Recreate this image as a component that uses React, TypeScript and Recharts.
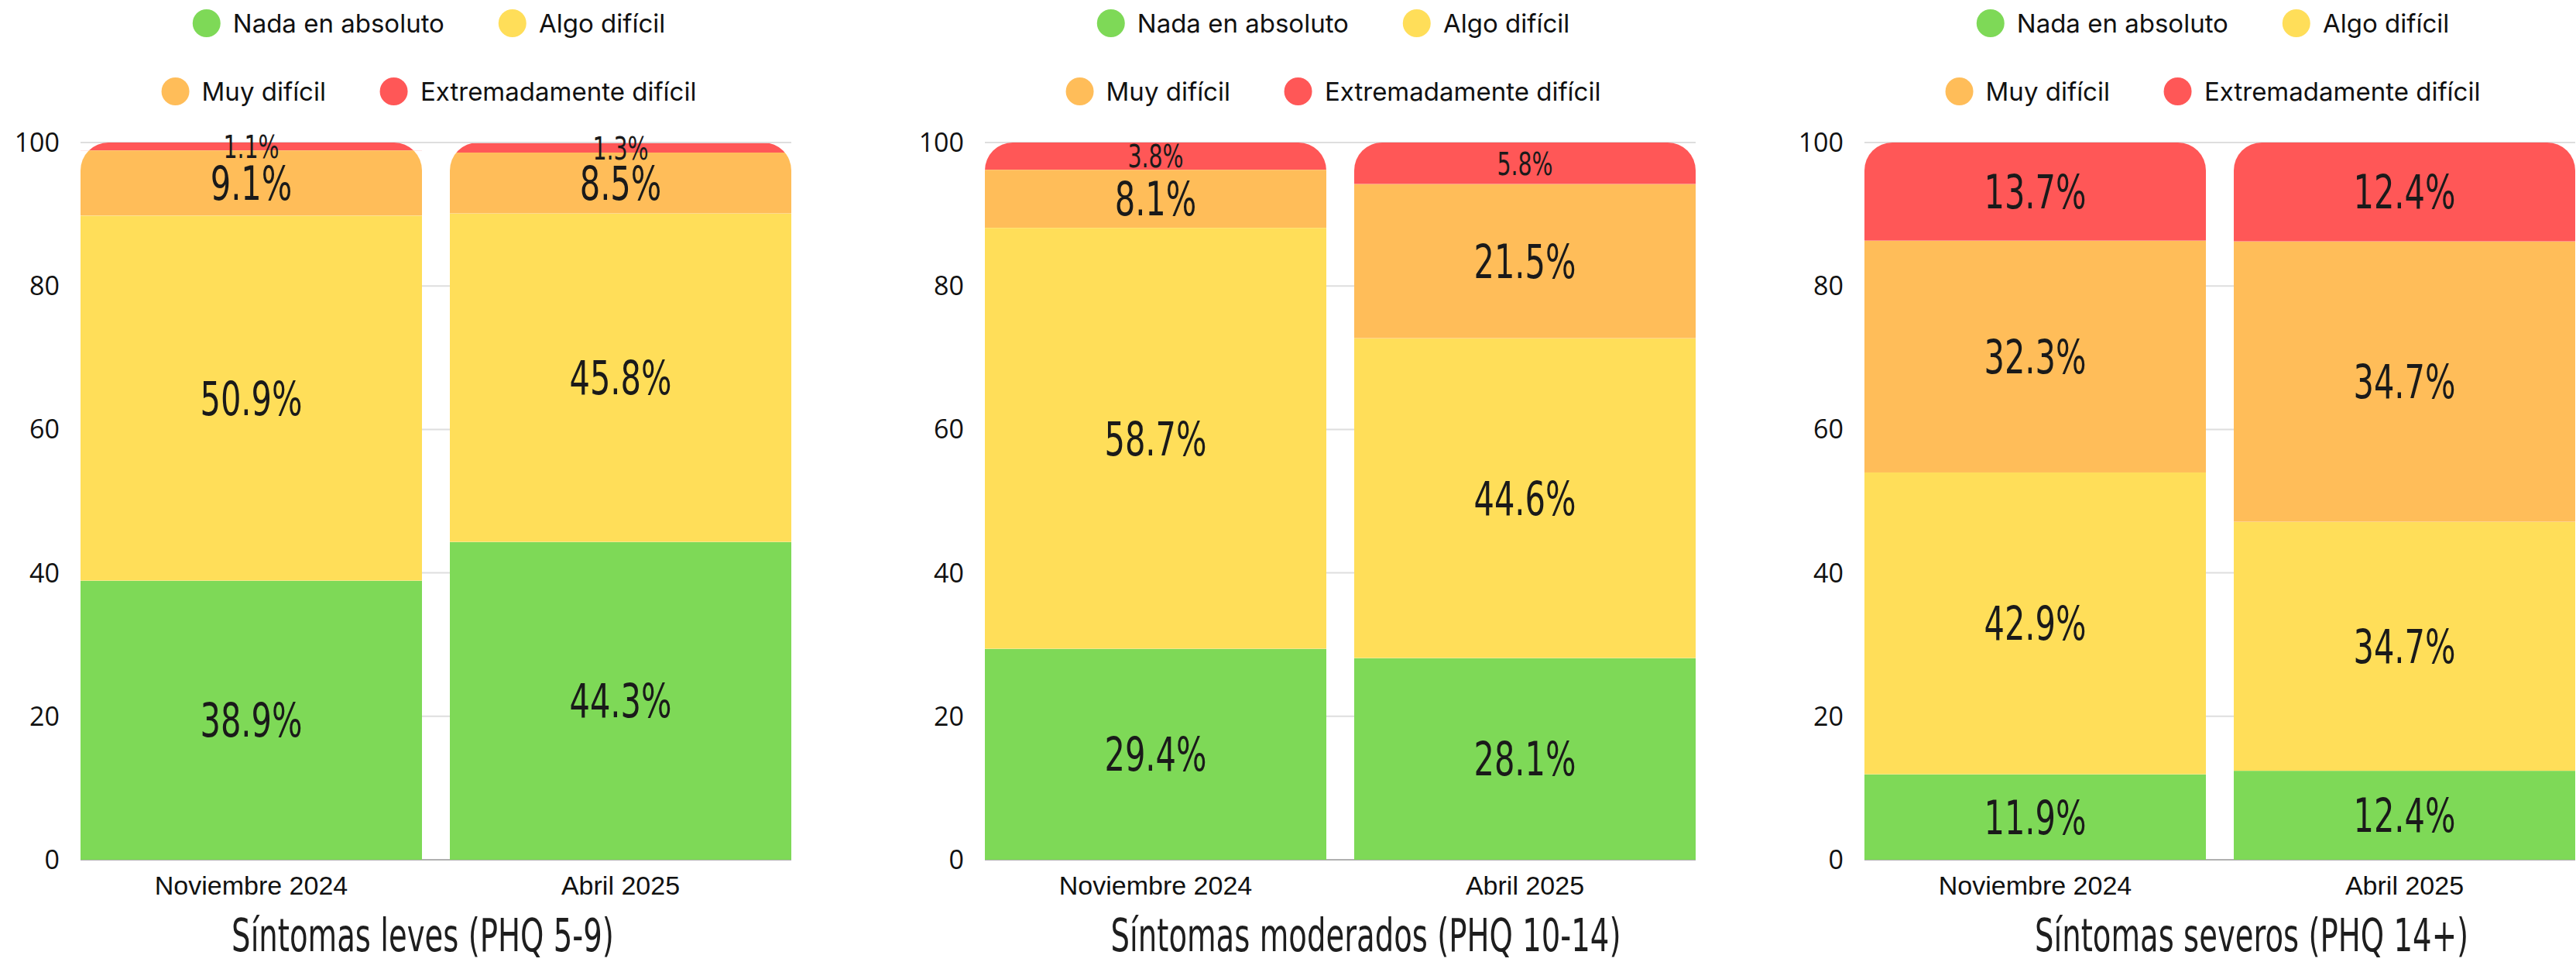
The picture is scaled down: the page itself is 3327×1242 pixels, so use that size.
import React from 'react';
import { BarChart, Bar, XAxis, YAxis, CartesianGrid, LabelList } from 'recharts';

// ---------- data ----------
const categories = ['Noviembre 2024', 'Abril 2025'];
const seriesKeys = ['nada', 'algo', 'muy', 'extremo'];
const seriesNames = ['Nada en absoluto', 'Algo difícil', 'Muy difícil', 'Extremadamente difícil'];
const seriesColors = ['#7ED957', '#FFDE59', '#FFBD59', '#FF5757'];
const yTicks = [0, 20, 40, 60, 80, 100];
const chartTitles = ['Síntomas leves (PHQ 5-9)', 'Síntomas moderados (PHQ 10-14)', 'Síntomas severos (PHQ 14+)'];

// Síntomas leves
const levesNada = [38.9, 44.3];
const levesAlgo = [50.9, 45.8];
const levesMuy = [9.1, 8.5];
const levesExtremo = [1.1, 1.3];
const levesLabels = [['38.9%', '44.3%'], ['50.9%', '45.8%'], ['9.1%', '8.5%'], ['1.1%', '1.3%']];

// Síntomas moderados
const moderadosNada = [29.4, 28.1];
const moderadosAlgo = [58.7, 44.6];
const moderadosMuy = [8.1, 21.5];
const moderadosExtremo = [3.8, 5.8];
const moderadosLabels = [['29.4%', '28.1%'], ['58.7%', '44.6%'], ['8.1%', '21.5%'], ['3.8%', '5.8%']];

// Síntomas severos (segment heights as drawn; printed labels kept as shown)
const severosNada = [11.9, 12.4];
const severosAlgo = [42.1, 34.7];
const severosMuy = [32.3, 39.1];
const severosExtremo = [13.7, 13.8];
const severosLabels = [['11.9%', '12.4%'], ['42.9%', '34.7%'], ['32.3%', '34.7%'], ['13.7%', '12.4%']];

function buildRows(series: number[][], labels: string[][]) {
  return categories.map((cat, i) => {
    const row: any = { cat };
    seriesKeys.forEach((k, s) => {
      row[k] = series[s][i];
      row[k + 'Label'] = labels[s][i];
    });
    return row;
  });
}

const levesData = buildRows([levesNada, levesAlgo, levesMuy, levesExtremo], levesLabels);
const moderadosData = buildRows([moderadosNada, moderadosAlgo, moderadosMuy, moderadosExtremo], moderadosLabels);
const severosData = buildRows([severosNada, severosAlgo, severosMuy, severosExtremo], severosLabels);

// ---------- layout ----------
const PAGE_W = 3327;
const PAGE_H = 1242;
const PLOT_TOP = 184;
const PLOT_W = 918;
const YAXIS_W = 104;
const XAXIS_H = 60;
const MARGIN_BOTTOM = 72;
const RADIUS = 36;
const plotLefts = [104, 1272, 2408];
const titleCenters = [546, 1764, 2908];

const NARROW = '"DejaVu Sans Condensed", "DejaVu Sans", sans-serif';

function Segment(props: any) {
  const { x, y, width, height, fill, index, cid, skey, background } = props;
  if (!height || height <= 0 || !width) return null;
  const T = background && typeof background.y === 'number' ? background.y : PLOT_TOP;
  const r = RADIUS;
  const bottom = y + height;
  const id = `clip-${cid}-${skey}-${index}`;
  const d = `M${x},${bottom} V${T + r} A${r},${r} 0 0 1 ${x + r},${T} H${x + width - r} A${r},${r} 0 0 1 ${x + width},${T + r} V${bottom} Z`;
  return (
    <g>
      <defs>
        <clipPath id={id}>
          <path d={d} />
        </clipPath>
      </defs>
      <rect x={x} y={y} width={width} height={height} fill={fill} clipPath={`url(#${id})`} />
    </g>
  );
}

function SegLabel(props: any) {
  const vb = props.viewBox && typeof props.viewBox.x === 'number' ? props.viewBox : props;
  const { x, y, width, height } = vb;
  const value = props.value;
  if (value == null || !height) return null;
  const small = Math.abs(height) < 65;
  const fs = small ? 41 : 60;
  const cx = x + width / 2;
  const cy = y + height / 2 + 0.36 * fs;
  return (
    <text
      transform={`translate(${cx},${cy}) scale(0.77,1)`}
      x={0}
      y={0}
      textAnchor="middle"
      fontFamily={NARROW}
      fontSize={fs}
      fill="#1a1a1a"
    >
      {value}
    </text>
  );
}

function gridLine(props: any) {
  const { x1, x2, y1, y2 } = props;
  const isBase = Math.abs(y1 - (PAGE_H - MARGIN_BOTTOM - XAXIS_H)) < 1;
  return (
    <line
      key={`g-${y1}`}
      x1={x1}
      x2={x2}
      y1={y1}
      y2={y2}
      stroke={isBase ? '#b0b0b0' : '#dedede'}
      strokeWidth={2}
    />
  );
}

function StackChart({ data, plotLeft, cid }: { data: any[]; plotLeft: number; cid: number }) {
  const width = YAXIS_W + PLOT_W + 1;
  return (
    <div style={{ position: 'absolute', left: plotLeft - YAXIS_W, top: 0 }}>
      <BarChart
        width={width}
        height={PAGE_H}
        data={data}
        margin={{ top: PLOT_TOP, right: 1, bottom: MARGIN_BOTTOM, left: 0 }}
        barCategoryGap={18}
      >
        <CartesianGrid vertical={false} horizontal={gridLine as any} />
        <XAxis
          dataKey="cat"
          height={XAXIS_H}
          padding={{ left: -18, right: -18 }}
          axisLine={false}
          tickLine={false}
          tickSize={0}
          tickMargin={21}
          interval={0}
          tick={{ fontFamily: '"Liberation Sans", Arial, sans-serif', fontSize: 34, fill: '#111' }}
        />
        <YAxis
          width={YAXIS_W}
          domain={[0, 100]}
          ticks={yTicks}
          axisLine={false}
          tickLine={false}
          tickSize={0}
          tickMargin={27}
          tick={{ fontFamily: '"Open Sans", sans-serif', fontSize: 34, fill: '#111' }}
        />
        {seriesKeys.map((k, si) => (
          <Bar
            key={k}
            dataKey={k}
            name={seriesNames[si]}
            stackId="s"
            fill={seriesColors[si]}
            isAnimationActive={false}
            shape={(p: any) => <Segment {...p} cid={cid} skey={k} />}
          >
            <LabelList dataKey={k + 'Label'} content={(p: any) => <SegLabel {...p} />} />
          </Bar>
        ))}
      </BarChart>
    </div>
  );
}

function LegendBlock({ center }: { center: number }) {
  const rows = [
    { idx: [0, 1], cy: 30 },
    { idx: [2, 3], cy: 118 },
  ];
  return (
    <>
      {rows.map((row, ri) => (
        <div
          key={ri}
          style={{
            position: 'absolute',
            left: center,
            top: row.cy - 25,
            height: 50,
            transform: 'translateX(-50%)',
            display: 'flex',
            alignItems: 'center',
            gap: 70,
            whiteSpace: 'nowrap',
          }}
        >
          {row.idx.map((i) => (
            <div key={i} style={{ display: 'flex', alignItems: 'center' }}>
              <span
                style={{
                  display: 'inline-block',
                  width: 36,
                  height: 36,
                  borderRadius: '50%',
                  background: seriesColors[i],
                  marginRight: 16,
                }}
              />
              <span style={{ fontFamily: 'Inter, sans-serif', fontSize: 33, color: '#111', lineHeight: '50px' }}>
                {seriesNames[i]}
              </span>
            </div>
          ))}
        </div>
      ))}
    </>
  );
}

export default function App() {
  const datasets = [levesData, moderadosData, severosData];
  return (
    <div
      style={{
        position: 'absolute',
        left: 0,
        top: 0,
        width: PAGE_W,
        height: PAGE_H,
        background: '#ffffff',
        overflow: 'hidden',
      }}
    >
      {datasets.map((d, i) => (
        <StackChart key={i} data={d} plotLeft={plotLefts[i]} cid={i} />
      ))}
      {plotLefts.map((pl, i) => (
        <LegendBlock key={i} center={pl + 450} />
      ))}
      <svg
        width={PAGE_W}
        height={PAGE_H}
        style={{ position: 'absolute', left: 0, top: 0, pointerEvents: 'none' }}
      >
        {chartTitles.map((t, i) => (
          <text
            key={i}
            transform={`translate(${titleCenters[i]},1228) scale(0.74,1)`}
            x={0}
            y={0}
            textAnchor="middle"
            fontFamily={NARROW}
            fontSize={58}
            fill="#1e1e1e"
          >
            {t}
          </text>
        ))}
      </svg>
    </div>
  );
}
